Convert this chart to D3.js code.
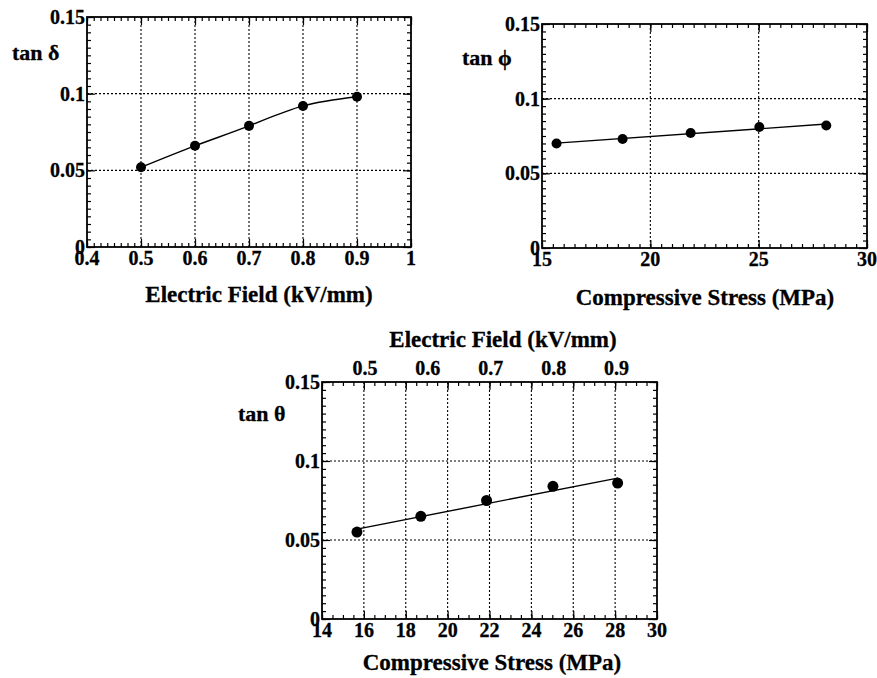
<!DOCTYPE html>
<html lang="en">
	<head>
		<meta charset="utf-8">
		<title>tan delta / phi / theta</title>
		<script src="https://cdn.jsdelivr.net/npm/d3@7"></script>
		<style type="text/css">
			body { margin: 0; background: #fff; }
			text { font-family: "Liberation Serif", "Times New Roman", serif; font-weight: bold; fill: #000; stroke: #000; stroke-width: 0.3; }
			.tick line { stroke: #000; stroke-width: 1.2; }
			.grid line { stroke: #000; stroke-width: 1.1; stroke-dasharray: 2,2; }
		</style>
	</head>
	<body>
		<script type="text/javascript">
			//Data
			var field = [0.5, 0.6, 0.7, 0.8, 0.9];                 // kV/mm
			var tanDelta = [0.052, 0.066, 0.079, 0.092, 0.098];
			var stress = [15.67, 18.72, 21.86, 25.03, 28.12];      // MPa
			var tanPhi = [0.070, 0.073, 0.077, 0.081, 0.082];
			var tanTheta = [0.055, 0.065, 0.075, 0.084, 0.086];
			var topFieldLabels = [0.5, 0.6, 0.7, 0.8, 0.9];

			var yTicks = [0, 0.05, 0.1, 0.15];
			var yMinor = d3.range(0, 0.1501, 0.005);

			var W = 877, H = 678;
			var svg = d3.select("body").append("svg")
						.attr("width", W)
						.attr("height", H);

			//least squares line through points
			function fit(xs, ys) {
				var mx = d3.mean(xs), my = d3.mean(ys);
				var sxy = d3.sum(xs, function(x, i) { return (x - mx) * (ys[i] - my); });
				var sxx = d3.sum(xs, function(x) { return (x - mx) * (x - mx); });
				var b = sxy / sxx;
				return function(x) { return my + b * (x - mx); };
			}

			//Draws a framed panel with inward ticks on all sides, returns scales
			function panel(o) {
				var x = d3.scaleLinear().domain(o.xDomain).range([o.left, o.right]);
				var y = d3.scaleLinear().domain([0, 0.15]).range([o.bottom, o.top]);
				var g = svg.append("g");

				//grid
				var grid = g.append("g").attr("class", "grid");
				grid.selectAll("line.v")
					.data(o.xTicks.slice(1, -1))
					.enter().append("line")
					.attr("x1", function(d) { return x(d); })
					.attr("x2", function(d) { return x(d); })
					.attr("y1", o.top).attr("y2", o.bottom);
				grid.selectAll("line.h")
					.data(yTicks.slice(1, -1))
					.enter().append("line")
					.attr("y1", function(d) { return y(d); })
					.attr("y2", function(d) { return y(d); })
					.attr("x1", o.left).attr("x2", o.right);

				//ticks
				function ax(axis, tr, vals, size) {
					var a = g.append("g")
						.attr("transform", tr)
						.call(axis.tickValues(vals).tickSize(-size).tickFormat(""));
					a.select(".domain").remove();
				}
				var h = o.bottom - o.top;
				ax(d3.axisBottom(x), "translate(0," + o.bottom + ")", o.xMinor, 4);
				ax(d3.axisBottom(x), "translate(0," + o.bottom + ")", o.xTicks, 8);
				ax(d3.axisTop(x), "translate(0," + o.top + ")", o.xMinor, 4);
				ax(d3.axisTop(x), "translate(0," + o.top + ")", o.xTicks, 8);
				ax(d3.axisLeft(y), "translate(" + o.left + ",0)", yMinor, 4);
				ax(d3.axisLeft(y), "translate(" + o.left + ",0)", yTicks, 8);
				ax(d3.axisRight(y), "translate(" + o.right + ",0)", yMinor, 4);
				ax(d3.axisRight(y), "translate(" + o.right + ",0)", yTicks, 8);

				//frame
				g.append("rect")
					.attr("x", o.left).attr("y", o.top)
					.attr("width", o.right - o.left).attr("height", h)
					.attr("fill", "none").attr("stroke", "#000").attr("stroke-width", 1.8);

				//tick labels
				g.selectAll("text.xl")
					.data(o.xTicks)
					.enter().append("text")
					.attr("x", function(d) { return x(d); })
					.attr("y", o.bottom + 18)
					.attr("text-anchor", "middle")
					.style("font-size", "20px")
					.text(o.xFmt);
				g.selectAll("text.yl")
					.data(yTicks)
					.enter().append("text")
					.attr("x", o.left - 2)
					.attr("y", function(d) { return y(d) + 7; })
					.attr("text-anchor", "end")
					.style("font-size", "20px")
					.text(function(d) { return d === 0 ? "0" : String(d); });

				//titles
				g.append("text")
					.attr("x", o.xTitleX).attr("y", o.xTitleY)
					.attr("text-anchor", "middle")
					.style("font-size", "23px")
					.text(o.xTitle);
				g.append("text")
					.attr("x", o.yTitleX).attr("y", o.yTitleY)
					.style("font-size", "22px")
					.text(o.yTitle);

				return { x: x, y: y, g: g };
			}

			function dots(p, xs, ys, r) {
				p.g.selectAll("circle")
					.data(xs)
					.enter().append("circle")
					.attr("cx", function(d) { return p.x(d); })
					.attr("cy", function(d, i) { return p.y(ys[i]); })
					.attr("r", r)
					.attr("fill", "#000");
			}

			function fitLine(p, xs, ys) {
				var f = fit(xs, ys);
				var ends = d3.extent(xs);
				p.g.append("path")
					.datum(ends)
					.attr("fill", "none").attr("stroke", "#000").attr("stroke-width", 1.4)
					.attr("d", d3.line()
						.x(function(d) { return p.x(d); })
						.y(function(d) { return p.y(f(d)); }));
			}

			//Panel 1: tan delta vs electric field
			var p1 = panel({
				left: 87, right: 411, top: 17, bottom: 247,
				xDomain: [0.4, 1],
				xTicks: [0.4, 0.5, 0.6, 0.7, 0.8, 0.9, 1],
				xMinor: d3.range(0.4, 1.0001, 0.0125),
				xFmt: function(d) { return d === 1 ? "1" : d.toFixed(1); },
				xTitle: "Electric Field (kV/mm)", xTitleX: 259, xTitleY: 302,
				yTitle: "tan \u03b4", yTitleX: 12, yTitleY: 60
			});
			p1.g.append("path")
				.datum(field)
				.attr("fill", "none").attr("stroke", "#000").attr("stroke-width", 1.4)
				.attr("d", d3.line()
					.curve(d3.curveNatural)
					.x(function(d) { return p1.x(d); })
					.y(function(d, i) { return p1.y(tanDelta[i]); }));
			dots(p1, field, tanDelta, 5);

			//Panel 2: tan phi vs compressive stress
			var p2 = panel({
				left: 542, right: 867, top: 24, bottom: 248,
				xDomain: [15, 30],
				xTicks: [15, 20, 25, 30],
				xMinor: d3.range(15, 30.001, 0.5),
				xFmt: function(d) { return d; },
				xTitle: "Compressive Stress (MPa)", xTitleX: 705, xTitleY: 305,
				yTitle: "tan \u03d5", yTitleX: 462, yTitleY: 65
			});
			fitLine(p2, stress, tanPhi);
			dots(p2, stress, tanPhi, 5);

			//Panel 3: tan theta vs stress, with field labels on top
			var p3 = panel({
				left: 322, right: 657, top: 382, bottom: 619,
				xDomain: [14, 30],
				xTicks: [14, 16, 18, 20, 22, 24, 26, 28, 30],
				xMinor: d3.range(14, 30.001, 0.5),
				xFmt: function(d) { return d; },
				xTitle: "Compressive Stress (MPa)", xTitleX: 492, xTitleY: 670,
				yTitle: "tan \u03b8", yTitleX: 238, yTitleY: 421
			});
			fitLine(p3, stress, tanTheta);
			dots(p3, stress, tanTheta, 5.5);

			var fieldTop = d3.scaleLinear().domain([0.5, 0.9]).range([p3.x(16.05), p3.x(28.07)]);
			p3.g.selectAll("text.top")
				.data(topFieldLabels)
				.enter().append("text")
				.attr("x", function(d) { return fieldTop(d); })
				.attr("y", 375)
				.attr("text-anchor", "middle")
				.style("font-size", "20px")
				.text(function(d) { return d.toFixed(1); });
			p3.g.append("text")
				.attr("x", 503).attr("y", 347)
				.attr("text-anchor", "middle")
				.style("font-size", "23px")
				.text("Electric Field (kV/mm)");
		</script>
	</body>
</html>
